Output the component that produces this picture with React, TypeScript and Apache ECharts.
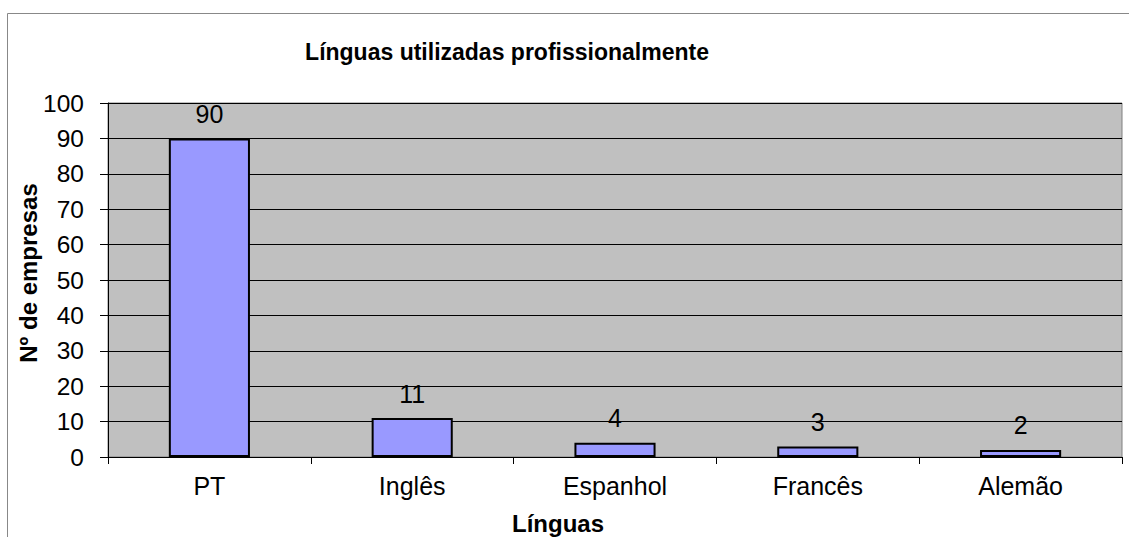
import React, { useEffect, useRef } from "react";
import * as echarts from "echarts";

const categories = ["PT", "Inglês", "Espanhol", "Francês", "Alemão"];
const values = [90, 11, 4, 3, 2];
const titleText = "Línguas utilizadas profissionalmente";
const xName = "Línguas";
const yName = "Nº de empresas";

const FONT = "'Liberation Sans', Arial, sans-serif";

export default function App() {
  const ref = useRef<HTMLDivElement>(null);
  useEffect(() => {
    const chart = echarts.init(ref.current!, null, { renderer: "svg" });
    chart.setOption({
      animation: false,
      backgroundColor: "#ffffff",
      textStyle: { fontFamily: FONT },
      title: {
        text: titleText,
        left: 502,
        top: 35,
        textAlign: "center",
        textStyle: { fontFamily: FONT, fontSize: 23, fontWeight: "bold", color: "#000" },
      },
      grid: {
        left: 108,
        top: 103,
        right: 7,
        bottom: 80,
        show: true,
        backgroundColor: "#C0C0C0",
        borderColor: "#808080",
        borderWidth: 1,
        containLabel: false,
      },
      xAxis: {
        type: "category",
        data: categories,
        axisLine: { show: true, lineStyle: { color: "#000", width: 1 } },
        axisTick: { show: true, length: 7, lineStyle: { color: "#000" } },
        axisLabel: { fontFamily: FONT, fontSize: 25, color: "#000", margin: 16 },
        splitLine: { show: false },
      },
      yAxis: {
        type: "value",
        min: 0,
        max: 100,
        interval: 10,
        axisLine: { show: true, lineStyle: { color: "#000", width: 1 } },
        axisTick: { show: true, length: 8, lineStyle: { color: "#000" } },
        axisLabel: { fontFamily: FONT, fontSize: 24.5, color: "#000", margin: 24 },
        splitLine: { show: true, lineStyle: { color: "#000", width: 1 } },
      },
      graphic: [
        {
          type: "line",
          shape: { x1: 7.5, y1: 13.5, x2: 1129, y2: 13.5 },
          style: { stroke: "#888", lineWidth: 1 },
        },
        {
          type: "line",
          shape: { x1: 7.5, y1: 13.5, x2: 7.5, y2: 537 },
          style: { stroke: "#888", lineWidth: 1 },
        },
        {
          type: "text",
          x: 558,
          y: 523,
          style: {
            text: xName,
            fontFamily: FONT,
            fontSize: 24,
            fontWeight: "bold",
            fill: "#000",
            align: "center",
            verticalAlign: "middle",
          },
        },
        {
          type: "text",
          x: 28,
          y: 273,
          rotation: Math.PI / 2,
          style: {
            text: yName,
            fontFamily: FONT,
            fontSize: 24,
            fontWeight: "bold",
            fill: "#000",
            align: "center",
            verticalAlign: "middle",
          },
        },
      ],
      series: [
        {
          type: "bar",
          data: values,
          barWidth: "40%",
          itemStyle: { color: "#9999FF", borderColor: "#000", borderWidth: 2 },
          label: {
            show: true,
            position: "top",
            distance: 12,
            fontFamily: FONT,
            fontSize: 25,
            color: "#000",
          },
        },
      ],
    });
    return () => chart.dispose();
  }, []);
  return (
    <div
      ref={ref}
      style={{ position: "absolute", left: 0, top: 0, width: 1129, height: 537 }}
    />
  );
}
